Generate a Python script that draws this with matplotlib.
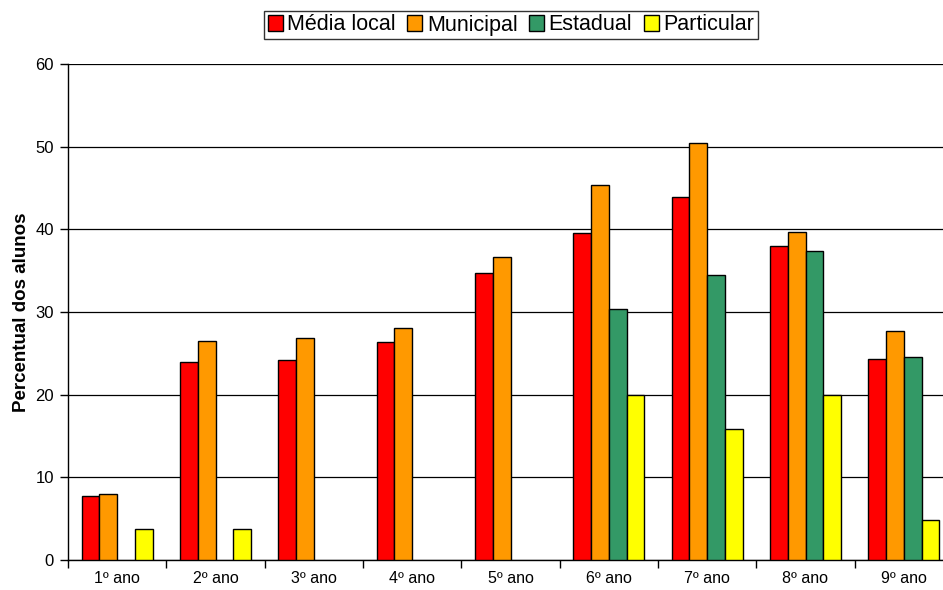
import numpy as np
import matplotlib
matplotlib.use("Agg")
import matplotlib.pyplot as plt
from matplotlib.ticker import MultipleLocator, FixedLocator

plt.rcParams['font.family'] = ['Liberation Sans', 'DejaVu Sans']

categories = ['1º ano', '2º ano', '3º ano', '4º ano', '5º ano',
              '6º ano', '7º ano', '8º ano', '9º ano']
series_names = ['Média local', 'Municipal', 'Estadual', 'Particular']
media_local = [7.7, 24.0, 24.2, 26.4, 34.7, 39.6, 43.9, 38.0, 24.3]
municipal = [8.0, 26.5, 26.9, 28.1, 36.6, 45.4, 50.5, 39.7, 27.7]
# no data for some years -> nan, so no bar is drawn
estadual = [np.nan, np.nan, np.nan, np.nan, np.nan, 30.4, 34.5, 37.4, 24.6]
particular = [3.8, 3.7, np.nan, np.nan, np.nan, 20.0, 15.8, 20.0, 4.8]
colors = ['#FF0000', '#FF9900', '#339966', '#FFFF00']

all_series = [media_local, municipal, estadual, particular]

fig = plt.figure(figsize=(9.43, 5.90), dpi=100)
# plot area runs a bit past the right edge, like the cropped original
ax = fig.add_axes([68 / 943, 30 / 590, 885 / 943, 496 / 590])

x = np.arange(len(categories))
bar_w = 0.18
for i, (vals, col, name) in enumerate(zip(all_series, colors, series_names)):
    offs = (i - 1.5) * bar_w
    ax.bar(x + offs, vals, width=bar_w, color=col, edgecolor='black',
           linewidth=1.0, label=name, zorder=3)

ax.set_xlim(-0.5, len(categories) - 0.5)
ax.set_ylim(0, 60)
ax.yaxis.set_major_locator(MultipleLocator(10))
ax.yaxis.grid(True, color='black', linewidth=0.9, zorder=0)

ax.set_xticks(x)
ax.set_xticklabels(categories, fontsize=11.5)
ax.tick_params(axis='x', which='major', length=0, pad=8)
ax.xaxis.set_minor_locator(FixedLocator(np.arange(-0.5, len(categories), 1.0)))
ax.tick_params(axis='x', which='minor', length=6, width=1, direction='out')
ax.tick_params(axis='y', length=6, width=1, direction='out', labelsize=12, pad=4)

for side in ['top', 'right']:
    ax.spines[side].set_visible(False)
ax.spines['left'].set_linewidth(1)
ax.spines['bottom'].set_linewidth(1)

ax.set_ylabel('Percentual dos alunos', fontsize=13.5, fontweight='bold', labelpad=4)

leg = fig.legend(loc='center', bbox_to_anchor=(511 / 943, 1 - 25 / 590), ncol=4,
                 fontsize=15.5, frameon=True, fancybox=False, edgecolor='black',
                 handlelength=0.7, handleheight=0.7, handletextpad=0.2,
                 columnspacing=0.55, borderpad=0.15, borderaxespad=0)
leg.get_frame().set_linewidth(1)

fig.savefig('out.png', dpi=100)
